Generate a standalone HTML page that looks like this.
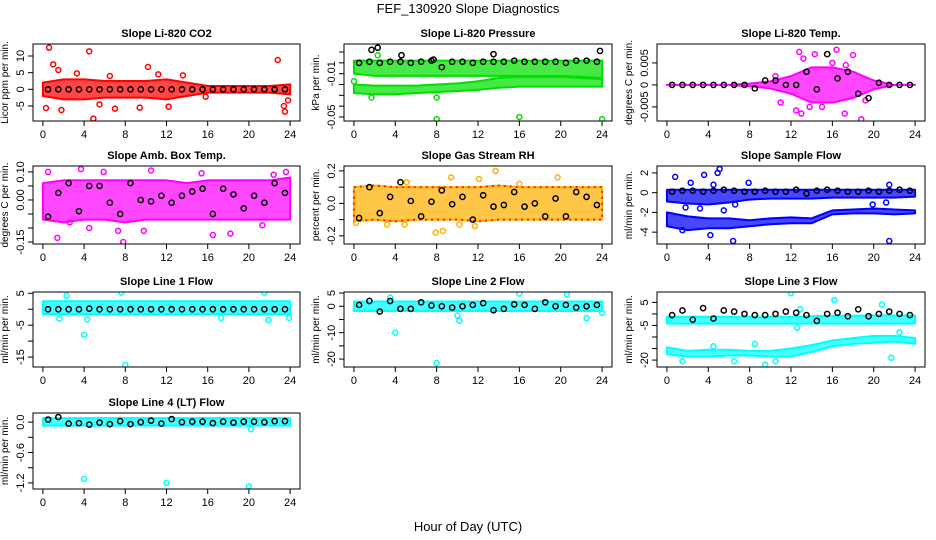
<!DOCTYPE html>
<html><head><meta charset="utf-8"><style>
html,body{margin:0;padding:0;background:#fff;}
svg{display:block;font-family:"Liberation Sans",sans-serif;}
</style></head><body>
<svg id="c" width="936" height="540" viewBox="0 0 936 540">
<text x="468" y="13" text-anchor="middle" font-size="13">FEF_130920  Slope Diagnostics</text>
<text x="468" y="531" text-anchor="middle" font-size="13">Hour of Day (UTC)</text>
</svg>
<script>
const bandHours = [0,2,4,6,8,10,12,14,16,18,20,22,24];
const blackHours = [0.5,1.5,2.5,3.5,4.5,5.5,6.5,7.5,8.5,9.5,10.5,11.5,12.5,13.5,14.5,15.5,16.5,17.5,18.5,19.5,20.5,21.5,22.5,23.5];
const xTicks = [0,4,8,12,16,20,24];

// Panel 1: CO2
const co2Lo = [-2,-3,-3,-2.5,-2.5,-2.5,-3,-2,-1,-1,-1,-1,-1.5];
const co2Hi = [2,3,3,2.5,2.5,2.5,3,2,1,1,1,1,1.5];
const co2Out = [[0.6,12.5],[4.5,11.4],[1,7.5],[10.2,6.7],[22.8,8.8],[4.9,-8.8],[0.3,-5.6],[1.8,-6.2],[7,-5.8],[23.5,-6.7],[23.4,-5],[9.4,-5.5],[12.2,-5.2],[13.6,4.2],[3.3,4.8],[1.5,5.8],[6.5,4],[11.2,4.5],[5.5,-4.5],[15.8,-2.2],[23.8,-3.3]];
const co2Black = [0,0,0,0,0,0,0,0,0,0,0,0,0,0,0,0,0,0,0,0,0,0,0,0];
const co2Ticks = [-5,0,5,10];
// Panel 2: Pressure
const presLo = [-0.010,-0.012,-0.012,-0.012,-0.012,-0.012,-0.012,-0.012,-0.012,-0.012,-0.012,-0.013,-0.014];
const presHi = [0.002,0.002,0.002,0.002,0.002,0.002,0.002,0.002,0.002,0.002,0.002,0.002,0.002];
const pres2Lo = [-0.028,-0.029,-0.029,-0.028,-0.027,-0.026,-0.025,-0.023,-0.022,-0.022,-0.022,-0.022,-0.022];
const pres2Hi = [-0.020,-0.021,-0.021,-0.021,-0.020,-0.019,-0.017,-0.014,-0.013,-0.013,-0.013,-0.014,-0.015];
const presOut = [[8,-0.052],[16,-0.050],[24,-0.052],[8,-0.032],[1.7,-0.032],[0,-0.017],[2.3,0.007]];
const presBlack = [0,0.001,0,0.001,0.001,0,0.001,0.002,-0.004,0.001,0.001,0,0.001,0.001,0.001,0.002,0.001,0.001,0.001,0.001,0,0.002,0.002,0.001];
const presBlackOut = [[1.7,0.012],[2.3,0.014],[23.8,0.011],[4.6,0.007],[13.5,0.008],[7.7,0.003]];
const presTicks = [0.01,0,-0.01,-0.02,-0.03,-0.04,-0.05];
const presLabels = ["","","-0.01","","","","-0.05"];
// Panel 3: Li-820 Temp
const tempLo = [0,0,0,0,-0.0003,-0.0008,-0.002,-0.004,-0.004,-0.003,-0.001,0,0];
const tempHi = [0,0,0,0,0.0003,0.0008,0.002,0.004,0.004,0.003,0.001,0,0];
const tempOut = [[12.8,0.0075],[13,-0.0065],[12.5,-0.0058],[14.3,0.007],[16.4,0.008],[17.2,-0.0065],[18.8,-0.0078],[18,0.0068],[16,0.005],[13.8,-0.005],[15,-0.005],[19.2,-0.0035],[11,-0.004],[13.2,0.006],[17.3,0.0045],[10.5,0.002]];
const tempBlack = [0,0,0,0,0,0,0,0,-0.0008,0.001,0.001,0,0,0.003,-0.001,0.007,0.0015,0.003,-0.002,-0.003,0.0005,0,0,0];
const tempTicks = [0.005,0,-0.005];
// Panel 4: Amb Box Temp
const ambLo = [-0.07,-0.08,-0.07,-0.07,-0.08,-0.07,-0.07,-0.07,-0.07,-0.07,-0.07,-0.07,-0.07];
const ambHi = [0.06,0.07,0.07,0.07,0.07,0.07,0.07,0.06,0.07,0.07,0.07,0.07,0.08];
const ambOut = [[0.5,0.10],[3.7,0.11],[5.9,0.10],[10.5,0.105],[7.8,-0.15],[1.4,-0.135],[9.8,-0.11],[16.5,-0.125],[18.2,-0.12],[23.6,0.10],[4.5,-0.10],[7.3,-0.11],[22.4,0.09],[15.4,0.095],[21.3,-0.09],[2.6,-0.08]];
const ambBlack = [-0.06,0.025,0.06,-0.04,0.05,0.05,-0.01,-0.05,0.06,0,-0.005,0.015,-0.01,0.015,0.03,0.04,-0.05,0.04,0.02,-0.03,0.015,-0.01,0.06,0.025];
const ambTicks = [0.10,0.05,0,-0.05,-0.10,-0.15];
const ambLabels = ["0.10","","0.00","","","-0.15"];
// Panel 5: Gas Stream RH
const rhLo = [-0.11,-0.1,-0.11,-0.1,-0.1,-0.1,-0.11,-0.1,-0.1,-0.1,-0.1,-0.1,-0.1];
const rhHi = [0.1,0.11,0.1,0.1,0.1,0.1,0.1,0.11,0.1,0.1,0.1,0.1,0.1];
const rhOut = [[13.7,0.2],[9.4,0.16],[12.1,0.15],[7.9,-0.18],[8.6,-0.17],[4.9,-0.13],[10.2,-0.13],[16,0.12],[19.7,0.16],[5.1,0.13],[3.2,-0.13],[11.7,-0.14],[0.2,-0.12]];
const rhBlack = [-0.09,0.1,-0.06,0.04,0.13,0.015,-0.08,0.01,0.08,-0.005,0.04,-0.1,0.05,-0.02,-0.01,0.07,-0.02,0,-0.08,0.03,-0.08,0.07,0.04,-0.01];
const rhTicks = [0.2,0.1,0,-0.1,-0.2];
const rhLabels = ["0.2","","0.0","","-0.2"];
// Panel 6: Sample Flow
const sfLo = [-0.9,-1.1,-1.2,-1,-0.7,-0.6,-0.6,-0.6,-0.5,-0.5,-0.5,-0.5,-0.4];
const sfHi = [0.3,0.3,0.3,0.3,0.3,0.3,0.3,0.3,0.3,0.3,0.3,0.3,0.3];
const sf2Lo = [-3.4,-3.8,-3.6,-3.6,-3.4,-3.2,-3.1,-3.1,-2.2,-2.1,-2.1,-2.2,-2.1];
const sf2Hi = [-2,-2.4,-2.6,-2.6,-2.8,-2.6,-2.5,-2.6,-1.8,-1.7,-1.6,-1.7,-1.8];
const sfOut = [[0.8,1.6],[3.6,1.8],[4.9,2],[5.1,2.4],[7.9,1],[2.3,1],[6.4,-4.9],[21.5,-4.9],[4.2,-4.3],[1.5,-3.8],[5.5,-1.8],[6.6,-1.2],[4.5,0.8],[21.5,0.8],[19.9,-1.2],[21.2,-1],[3.2,-1.6],[1.8,-1.5]];
const sfBlack = [0.1,0.2,0.2,0.1,0.2,0.3,0.2,0.1,0.1,0.2,0.1,0.1,0.3,-0.1,0.2,0.3,0.2,0.1,0.1,0.2,0.1,0.2,0.3,0.2];
const sfTicks = [2,0,-2,-4];
// Panel 7: Line 1 Flow
const l1Lo = [-1.5,-1.5,-1.5,-1.5,-1.5,-1.5,-1.5,-1.5,-1.5,-1.5,-1.5,-1.5,-1.5];
const l1Hi = [2.5,2.5,2.5,2.5,2.5,2.5,2.5,2.5,2.5,2.5,2.5,2.5,2.5];
const l1Out = [[4,-8],[8,-17.5],[7.6,5.2],[21.5,5.2],[4.3,-3.2],[1.6,-3],[21.9,-3.4],[17.3,-2.7],[23.9,-2.7],[2.3,4.2]];
const l1Black = [0,0,0,0,0.2,0,0,0,0,0,0,0,0,0,0,0,0,0,0,0,0,0,0,0];
const l1Ticks = [5,0,-5,-10,-15];
const l1Labels = ["5","","-5","","-15"];
// Panel 8: Line 2 Flow
const l2Lo = [-1.8,-1.8,-1.8,-1.8,-1.8,-1.8,-1.8,-1.8,-1.8,-1.8,-1.8,-1.8,-1.8];
const l2Hi = [1.8,1.8,1.8,1.8,1.8,1.8,1.8,1.8,1.8,1.8,1.8,1.8,1.8];
const l2Out = [[4,-10],[8,-21.5],[10.2,-5.5],[16,4.8],[22.5,-4.5],[24,-2.5],[3.5,3.3],[10,-3.5],[20.6,4.5]];
const l2Black = [0.5,2,-2,2,-1,-1,1.5,0.3,0,-0.5,0,0.5,1.2,-1.5,-1,0.7,0.5,-1,1.5,0,0.5,-0.5,0,0.5];
const l2Ticks = [5,0,-5,-10,-15,-20];
const l2Labels = ["5","0","","-10","","-20"];
// Panel 9: Line 3 Flow
const l3Lo = [-4.2,-4.2,-4.2,-4.2,-4.2,-4.2,-4.2,-4.2,-4.2,-4.2,-4.2,-4.2,-4.2];
const l3Hi = [-1.2,-1.2,-1.2,-1.2,-1.2,-1.2,-1.2,-1,-0.8,-0.8,-0.7,-0.7,-0.7];
const l3bLo = [-17.5,-18.5,-18.5,-18,-18,-18.5,-18.5,-16.5,-14,-13,-12.5,-12,-13];
const l3bHi = [-14.5,-16,-15.5,-15.5,-16,-16,-15,-13.5,-11.5,-10.5,-9.5,-9.5,-10.5];
const l3Out = [[12,9],[16.2,6],[20.8,4],[9.5,-22],[12.6,-6],[22.5,-8],[21.7,-19],[0.3,-2],[12.9,2],[1.5,-20.5],[6.5,-20.5],[10.5,-20.5],[8.5,-13],[4.5,-14]];
const l3Black = [-0.5,1.5,-2.5,2.5,-2,1.5,1,0,-0.5,-0.5,0,1,0.5,-0.5,-3,0,0.5,-1,2,-1,0,1,0,-0.5];
const l3Ticks = [5,0,-5,-10,-15,-20];
const l3Labels = ["5","","-5","","","-20"];
// Panel 10: Line 4 (LT) Flow
const l4Lo = [-0.07,-0.07,-0.07,-0.07,-0.07,-0.07,-0.07,-0.07,-0.07,-0.07,-0.07,-0.07,-0.07];
const l4Hi = [0.08,0.08,0.08,0.08,0.08,0.08,0.08,0.08,0.08,0.08,0.08,0.08,0.08];
const l4Out = [[4,-1.12],[12,-1.2],[20,-1.27],[20.2,-0.14]];
const l4Black = [0.05,0.1,-0.03,-0.02,-0.05,-0.01,-0.04,0.02,-0.04,0,0.03,-0.03,0.06,0,0.01,0.01,-0.02,0.01,-0.01,0.01,0.01,0,0.02,0.02];
const l4Ticks = [0,-0.3,-0.6,-0.9,-1.2];
const l4Labels = ["0.0","","-0.6","","-1.2"];

const NS = "http://www.w3.org/2000/svg";
const svg = document.getElementById('c');
function mk(tag, attrs, parent) {
  const e = document.createElementNS(NS, tag);
  for (const k in attrs) e.setAttribute(k, attrs[k]);
  (parent || svg).appendChild(e);
  return e;
}

const cols = [[33,300],[344,612],[657,925]];
const rows = [[44,121],[166,244],[292,367],[413,489]];

function panel(o) {
  const [x0,x1] = cols[o.col], [y0,y1] = rows[o.row];
  const g = mk('g', {});
  
  
  const pad = 0.96;
  const xs = v => x0 + (v + pad) / (24 + 2*pad) * (x1 - x0);
  const ys = v => y1 - (v - o.ymin) / (o.ymax - o.ymin) * (y1 - y0);
  const t = mk('text', {x:(x0+x1)/2, y:y0-7, 'text-anchor':'middle', 'font-size':11, 'font-weight':'bold'}, g);
  t.textContent = o.title;
  
  
  const cid = 'clip' + o.row + o.col;
  const cp = mk('clipPath', {id:cid}, g);
  mk('rect', {x:x0, y:y0, width:x1-x0, height:y1-y0}, cp);
  const pg = mk('g', {'clip-path':'url(#'+cid+')'}, g);
  (o.bands || []).forEach(([lo,hi]) => {
    let pts = bandHours.map((h,i) => xs(h)+','+ys(hi[i]));
    pts = pts.concat(bandHours.map((h,i) => xs(h)+','+ys(lo[i])).reverse());
    const p = mk('polygon', {points:pts.join(' '), fill:o.color, 'fill-opacity':0.72, stroke:o.color, 'stroke-width':2, 'stroke-linejoin':'round'}, pg);
    
    
    if (o.color2) {
      const p2 = mk('polygon', {points:pts.join(' '), fill:'none', stroke:o.color2, 'stroke-width':2, 'stroke-dasharray':'2 4', 'stroke-linejoin':'round'}, pg);
      
      
    }
  });
  (o.out || []).forEach(([h,v]) => {
    const c = mk('circle', {cx:xs(h), cy:ys(v), r:2.5, fill:'none', stroke:o.color, 'stroke-width':1.5}, pg);
    
    
  });
  (o.black || []).forEach((v,i) => {
    const c = mk('circle', {cx:xs(blackHours[i]), cy:ys(v), r:2.6, fill:'none', stroke:'#000', 'stroke-width':1.5}, pg);
    
    
  });
  (o.blackOut || []).forEach(([h,v]) => {
    const c = mk('circle', {cx:xs(h), cy:ys(v), r:2.6, fill:'none', stroke:'#000', 'stroke-width':1.5}, pg);
    
    
  });
  const b = mk('rect', {x:x0, y:y0, width:x1-x0, height:y1-y0, fill:'none', stroke:'#000', 'stroke-width':1}, g);
  
  
  xTicks.forEach(v => {
    mk('line', {x1:xs(v), x2:xs(v), y1:y1, y2:y1+5, stroke:'#000'}, g);
    const tl = mk('text', {x:xs(v), y:y1+17, 'text-anchor':'middle', 'font-size':11}, g);
    tl.textContent = v;
    
    
  });
  o.ticks.forEach((v,i) => {
    mk('line', {x1:x0-5, x2:x0, y1:ys(v), y2:ys(v), stroke:'#000'}, g);
    const lab = o.labels ? o.labels[i] : String(v);
    if (lab) {
      const tl = mk('text', {x:x0-9, y:ys(v), 'text-anchor':'middle', 'font-size':11, transform:'rotate(-90 '+(x0-9)+' '+ys(v)+')'}, g);
      tl.textContent = lab;
      
      
    }
  });
  const ym = (y0+y1)/2;
  const yl = mk('text', {x:x0-25, y:ym, 'text-anchor':'middle', 'font-size':10, transform:'rotate(-90 '+(x0-25)+' '+ym+')'}, g);
  yl.textContent = o.ylab;
  
  
}

panel({name:'panel-co2', title:'Slope Li-820 CO2', col:0,row:0, ymin:-9.5, ymax:13.6, ticks:co2Ticks, ylab:'Licor ppm per min.', color:'#ff0000', bands:[[co2Lo,co2Hi]], out:co2Out, black:co2Black});
panel({name:'panel-pressure', title:'Slope Li-820 Pressure', col:1,row:0, ymin:-0.0537, ymax:0.0174, ticks:presTicks, labels:presLabels, ylab:'kPa per min.', color:'#00e000', bands:[[presLo,presHi],[pres2Lo,pres2Hi]], out:presOut, black:presBlack, blackOut:presBlackOut});
panel({name:'panel-li820-temp', title:'Slope Li-820 Temp.', col:2,row:0, ymin:-0.0082, ymax:0.0093, ticks:tempTicks, ylab:'degrees C per min.', color:'#ff00ff', bands:[[tempLo,tempHi]], out:tempOut, black:tempBlack});
panel({name:'panel-amb-box-temp', title:'Slope Amb. Box Temp.', col:0,row:1, ymin:-0.157, ymax:0.121, ticks:ambTicks, labels:ambLabels, ylab:'degrees C per min.', color:'#ff00ff', bands:[[ambLo,ambHi]], out:ambOut, black:ambBlack});
panel({name:'panel-gas-stream-rh', title:'Slope Gas Stream RH', col:1,row:1, ymin:-0.25, ymax:0.23, ticks:rhTicks, labels:rhLabels, ylab:'percent per min.', color:'#ffb000', color2:'#ff2000', bands:[[rhLo,rhHi]], out:rhOut, black:rhBlack});
panel({name:'panel-sample-flow', title:'Slope Sample Flow', col:2,row:1, ymin:-5.2, ymax:2.7, ticks:sfTicks, ylab:'ml/min per min.', color:'#0000ff', bands:[[sfLo,sfHi],[sf2Lo,sf2Hi]], out:sfOut, black:sfBlack});
panel({name:'panel-line1-flow', title:'Slope Line 1 Flow', col:0,row:2, ymin:-18.1, ymax:5.4, ticks:l1Ticks, labels:l1Labels, ylab:'ml/min per min.', color:'#00ffff', bands:[[l1Lo,l1Hi]], out:l1Out, black:l1Black});
panel({name:'panel-line2-flow', title:'Slope Line 2 Flow', col:1,row:2, ymin:-23, ymax:5.4, ticks:l2Ticks, labels:l2Labels, ylab:'ml/min per min.', color:'#00ffff', bands:[[l2Lo,l2Hi]], out:l2Out, black:l2Black});
panel({name:'panel-line3-flow', title:'Slope Line 3 Flow', col:2,row:2, ymin:-23, ymax:9.5, ticks:l3Ticks, labels:l3Labels, ylab:'ml/min per min.', color:'#00ffff', bands:[[l3Lo,l3Hi],[l3bLo,l3bHi]], out:l3Out, black:l3Black});
panel({name:'panel-line4-flow', title:'Slope Line 4 (LT) Flow', col:0,row:3, ymin:-1.32, ymax:0.18, ticks:l4Ticks, labels:l4Labels, ylab:'ml/min per min.', color:'#00ffff', bands:[[l4Lo,l4Hi]], out:l4Out, black:l4Black});
</script>
</body></html>
